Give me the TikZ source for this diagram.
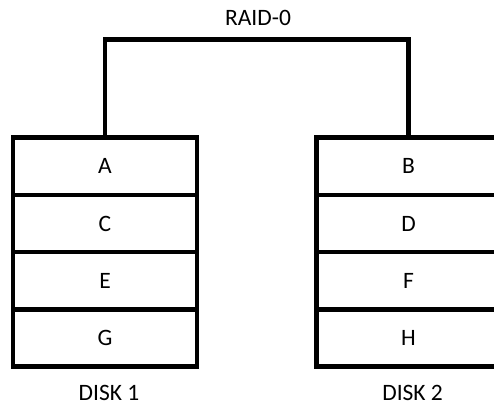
\documentclass[tikz,border=0pt]{standalone}
\usepackage{fontspec}
\setmainfont{Carlito}
\begin{document}
\begin{tikzpicture}[x=1pt,y=-1pt,
  cell/.style={draw=black, line width=4.6pt, rectangle,
    minimum width=184pt, minimum height=57.3pt, inner sep=0pt,
    font=\fontsize{23.5}{28}\selectfont},
  caption/.style={inner sep=0pt, font=\fontsize{23.5}{28}\selectfont},
  bus/.style={draw=black, line width=4.6pt, line join=miter}]
\useasboundingbox (0,0) rectangle (494,407);
\clip (0,0) rectangle (494,407);

% disk 1 stripes
\node[cell] (A) at (105,166.2) {A};
\node[cell] (C) at (105,223.5) {C};
\node[cell] (E) at (105,280.8) {E};
\node[cell] (G) at (105,338.1) {G};

% disk 2 stripes
\node[cell] (B) at (408.5,166.2) {B};
\node[cell] (D) at (408.5,223.5) {D};
\node[cell] (F) at (408.5,280.8) {F};
\node[cell] (H) at (408.5,338.1) {H};

% array controller link
\coordinate (top) at (256,39.5);
\draw[bus] (A.north) |- (top) -| (B.north);

\node[caption] (raid) at (258,18) {RAID-0};
\node[caption] (d1) at (109,393) {DISK 1};
\node[caption] (d2) at (412.6,393) {DISK 2};
\end{tikzpicture}
\end{document}
